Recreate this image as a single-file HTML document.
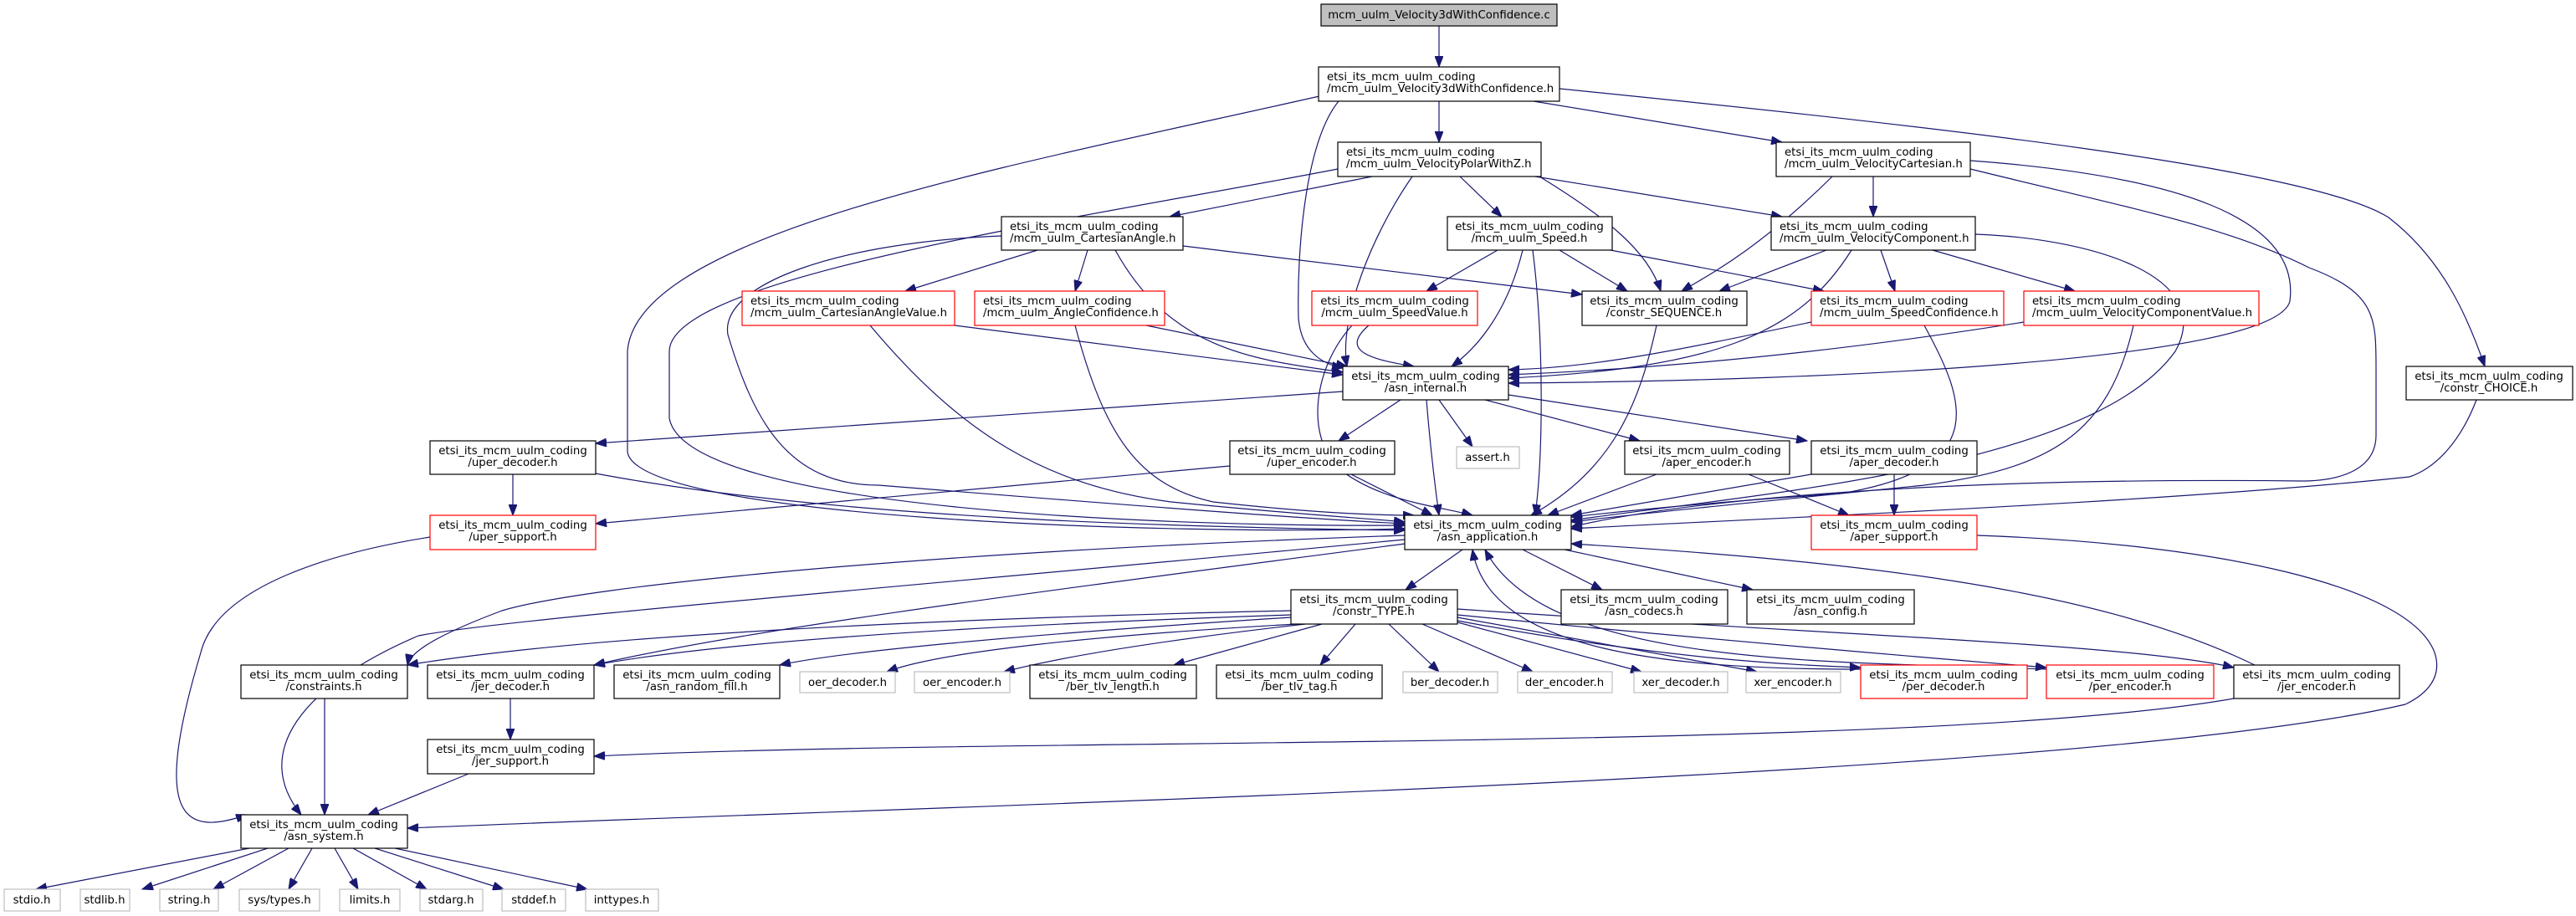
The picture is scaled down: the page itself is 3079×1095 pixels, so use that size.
<!DOCTYPE html>
<html><head><meta charset="utf-8"><style>
html,body{margin:0;padding:0;background:#fff;}
svg{display:block;}
text{font-family:"DejaVu Sans","Liberation Sans",sans-serif;font-size:13.3px;fill:#000;}
.n{fill:#fff;stroke:#000;stroke-width:1.2;}
.r{fill:#fff;stroke:#ff0000;stroke-width:1.2;}
.g{fill:#fff;stroke:#bfbfbf;stroke-width:1.2;}
.e{fill:none;stroke:#191970;stroke-width:1.2;marker-end:url(#a);}
</style></head><body>
<svg width="3079" height="1095" viewBox="0 0 3079 1095" xmlns="http://www.w3.org/2000/svg">
<defs><marker id="a" markerUnits="userSpaceOnUse" markerWidth="14" markerHeight="10" refX="13" refY="5" orient="auto"><path d="M0,0 L13,5 L0,10 z" fill="#191970" stroke="#191970"/></marker></defs>

<g>
<path class="e" d="M1720,31 L1720,80"/>
<path class="e" d="M1720,121 L1720,170"/>
<path class="e" d="M1833,121 L2130,170"/>
<path class="e" d="M1864,106 C2300,150 2760,200 2855,260 C2920,310 2950,380 2970,438"/>
<path class="e" d="M1600,121 C1560,170 1550,300 1552,380 C1555,420 1580,435 1605,440"/>
<path class="e" d="M1577,115 C1200,200 760,280 750,420 L750,540 C760,620 1400,640 1679,632"/>
<path class="e" d="M1640,211 L1398,259"/>
<path class="e" d="M1745,211 L1795,259"/>
<path class="e" d="M1835,211 L2130,259"/>
<path class="e" d="M1840,211 C1920,260 1970,300 1985,348"/>
<path class="e" d="M1688,211 C1640,280 1600,380 1610,438"/>
<path class="e" d="M1599,202 C1300,260 800,330 800,420 L800,500 C820,610 1400,630 1679,628"/>
<path class="e" d="M2239,211 L2239,259"/>
<path class="e" d="M2190,211 C2100,300 2040,330 2010,348"/>
<path class="e" d="M2355,192 C2600,210 2750,260 2737,360 C2720,430 2200,455 1803,458"/>
<path class="e" d="M2355,202 C2550,250 2660,270 2760,320 C2840,350 2840,380 2840,440 L2840,520 C2840,560 2800,575 2750,575 C2300,570 2000,600 1878,630"/>
<path class="e" d="M1240,299 L1082,348"/>
<path class="e" d="M1300,299 L1285,348"/>
<path class="e" d="M1333,299 C1400,420 1500,430 1605,445"/>
<path class="e" d="M1414,294 L1891,352"/>
<path class="e" d="M1197,282 C1000,290 860,340 870,400 C900,500 940,580 1050,580 C1300,600 1550,620 1679,626"/>
<path class="e" d="M1790,299 L1705,348"/>
<path class="e" d="M1864,299 L1945,348"/>
<path class="e" d="M1925,299 L2180,348"/>
<path class="e" d="M1820,299 C1800,380 1760,420 1735,438"/>
<path class="e" d="M1832,299 C1845,400 1845,540 1835,616"/>
<path class="e" d="M2183,299 L2055,348"/>
<path class="e" d="M2248,299 L2265,348"/>
<path class="e" d="M2310,299 L2480,348"/>
<path class="e" d="M2213,299 C2150,400 2050,440 1803,452"/>
<path class="e" d="M2361,280 C2500,285 2650,330 2600,420 C2500,560 2100,590 1878,622"/>
<path class="e" d="M1636,389 C1600,420 1640,430 1690,438"/>
<path class="e" d="M1616,389 C1570,440 1560,520 1600,560 C1650,600 1720,605 1760,616"/>
<path class="e" d="M1980,389 C1960,480 1930,560 1830,616"/>
<path class="e" d="M2165,385 C2000,420 1900,440 1803,442"/>
<path class="e" d="M2300,389 C2350,480 2380,560 2200,590 C2050,600 1950,610 1878,618"/>
<path class="e" d="M2419,385 C2200,420 2000,440 1803,448"/>
<path class="e" d="M2550,389 C2520,520 2450,560 2300,580 C2100,600 1950,615 1878,624"/>
<path class="e" d="M1141,389 L1605,448"/>
<path class="e" d="M1040,389 C1150,520 1250,580 1400,600 C1550,615 1640,620 1679,624"/>
<path class="e" d="M1370,389 L1610,438"/>
<path class="e" d="M1285,389 C1320,520 1360,580 1450,600 C1560,612 1640,616 1690,616"/>
<path class="e" d="M1605,468 L712,530"/>
<path class="e" d="M1674,478 L1600,527"/>
<path class="e" d="M1720,478 L1760,534"/>
<path class="e" d="M1775,478 L1960,527"/>
<path class="e" d="M1803,472 L2160,527"/>
<path class="e" d="M1705,478 C1710,540 1715,580 1720,616"/>
<path class="e" d="M613,567 L613,616"/>
<path class="e" d="M712,566 C1000,620 1400,630 1679,634"/>
<path class="e" d="M1470,557 L712,626"/>
<path class="e" d="M1615,567 L1712,616"/>
<path class="e" d="M2090,567 L2210,616"/>
<path class="e" d="M1980,567 L1850,616"/>
<path class="e" d="M2264,567 L2264,616"/>
<path class="e" d="M2165,567 L1878,616"/>
<path class="e" d="M2960,478 C2940,530 2910,560 2880,570 C2600,600 2100,620 1878,632"/>
<path class="e" d="M514,642 C400,660 260,700 240,780 C180,980 220,1000 295,974"/>
<path class="e" d="M2363,640 C2650,650 2880,700 2910,780 C2920,810 2900,830 2875,842 C2500,930 1200,960 487,990"/>
<path class="e" d="M1748,657 L1680,705"/>
<path class="e" d="M1820,657 L1915,705"/>
<path class="e" d="M1870,657 L2095,705"/>
<path class="e" d="M1679,645 C1100,700 600,740 500,760 C360,820 300,900 360,974"/>
<path class="e" d="M1679,640 C1100,660 700,700 600,730 C520,760 490,780 487,795"/>
<path class="e" d="M1679,650 C1300,700 900,750 710,795"/>
<path class="e" d="M1543,730 C1100,740 700,760 487,795"/>
<path class="e" d="M1543,735 C1100,750 850,770 710,795"/>
<path class="e" d="M1543,738 C1200,760 1000,780 932,795"/>
<path class="e" d="M1550,746 C1300,760 1120,780 1060,803"/>
<path class="e" d="M1560,746 C1350,770 1250,790 1200,803"/>
<path class="e" d="M1580,746 L1403,795"/>
<path class="e" d="M1620,746 L1578,795"/>
<path class="e" d="M1660,746 L1720,803"/>
<path class="e" d="M1700,746 L1832,803"/>
<path class="e" d="M1735,742 L1962,803"/>
<path class="e" d="M1742,738 L2100,803"/>
<path class="e" d="M1742,742 C2000,790 2150,795 2224,798"/>
<path class="e" d="M1742,735 C2100,770 2350,790 2446,798"/>
<path class="e" d="M1742,728 C2200,760 2550,770 2670,798"/>
<path class="e" d="M2224,800 C2000,800 1780,780 1760,657"/>
<path class="e" d="M2446,800 C2200,790 1850,800 1775,657"/>
<path class="e" d="M2695,795 C2500,700 2200,670 1878,650"/>
<path class="e" d="M2670,835 C2300,900 1200,880 710,904"/>
<path class="e" d="M610,835 L610,884"/>
<path class="e" d="M560,925 L440,974"/>
<path class="e" d="M388,835 L388,974"/>
<path class="e" d="M298,1014 L43,1063"/>
<path class="e" d="M320,1014 L170,1063"/>
<path class="e" d="M345,1014 L255,1063"/>
<path class="e" d="M373,1014 L345,1063"/>
<path class="e" d="M400,1014 L428,1063"/>
<path class="e" d="M422,1014 L510,1063"/>
<path class="e" d="M448,1014 L602,1063"/>
<path class="e" d="M472,1014 L702,1063"/>
</g>

<rect x="1579" y="5" width="282" height="26" fill="#bfbfbf" stroke="#000" stroke-width="1.2"/>
<text x="1720" y="22" text-anchor="middle">mcm_uulm_Velocity3dWithConfidence.c</text>

<rect class="n" x="1576" y="80" width="288" height="41"/>
<text x="1586" y="96">etsi_its_mcm_uulm_coding</text><text x="1586" y="110">/mcm_uulm_Velocity3dWithConfidence.h</text>

<rect class="n" x="1599" y="170" width="243" height="41"/>
<text x="1609" y="186">etsi_its_mcm_uulm_coding</text><text x="1609" y="200">/mcm_uulm_VelocityPolarWithZ.h</text>

<rect class="n" x="2123" y="170" width="232" height="41"/>
<text x="2133" y="186">etsi_its_mcm_uulm_coding</text><text x="2133" y="200">/mcm_uulm_VelocityCartesian.h</text>

<rect class="n" x="1197" y="259" width="217" height="40"/>
<text x="1207" y="275">etsi_its_mcm_uulm_coding</text><text x="1207" y="289">/mcm_uulm_CartesianAngle.h</text>

<rect class="n" x="1730" y="259" width="197" height="40"/>
<text x="1828" y="275" text-anchor="middle">etsi_its_mcm_uulm_coding</text><text x="1828" y="289" text-anchor="middle">/mcm_uulm_Speed.h</text>

<rect class="n" x="2117" y="259" width="244" height="40"/>
<text x="2127" y="275">etsi_its_mcm_uulm_coding</text><text x="2127" y="289">/mcm_uulm_VelocityComponent.h</text>

<rect class="r" x="887" y="348" width="254" height="41"/>
<text x="897" y="364">etsi_its_mcm_uulm_coding</text><text x="897" y="378">/mcm_uulm_CartesianAngleValue.h</text>

<rect class="r" x="1165" y="348" width="227" height="41"/>
<text x="1175" y="364">etsi_its_mcm_uulm_coding</text><text x="1175" y="378">/mcm_uulm_AngleConfidence.h</text>

<rect class="r" x="1568" y="348" width="198" height="41"/>
<text x="1667" y="364" text-anchor="middle">etsi_its_mcm_uulm_coding</text><text x="1667" y="378" text-anchor="middle">/mcm_uulm_SpeedValue.h</text>

<rect class="n" x="1891" y="348" width="197" height="41"/>
<text x="1989" y="364" text-anchor="middle">etsi_its_mcm_uulm_coding</text><text x="1989" y="378" text-anchor="middle">/constr_SEQUENCE.h</text>

<rect class="r" x="2165" y="348" width="230" height="41"/>
<text x="2175" y="364">etsi_its_mcm_uulm_coding</text><text x="2175" y="378">/mcm_uulm_SpeedConfidence.h</text>

<rect class="r" x="2419" y="348" width="281" height="41"/>
<text x="2429" y="364">etsi_its_mcm_uulm_coding</text><text x="2429" y="378">/mcm_uulm_VelocityComponentValue.h</text>

<rect class="n" x="1605" y="438" width="198" height="40"/>
<text x="1704" y="454" text-anchor="middle">etsi_its_mcm_uulm_coding</text><text x="1704" y="468" text-anchor="middle">/asn_internal.h</text>

<rect class="n" x="2876" y="438" width="199" height="40"/>
<text x="2975" y="454" text-anchor="middle">etsi_its_mcm_uulm_coding</text><text x="2975" y="468" text-anchor="middle">/constr_CHOICE.h</text>

<rect class="n" x="514" y="527" width="198" height="40"/>
<text x="613" y="543" text-anchor="middle">etsi_its_mcm_uulm_coding</text><text x="613" y="557" text-anchor="middle">/uper_decoder.h</text>

<rect class="n" x="1470" y="527" width="197" height="40"/>
<text x="1568" y="543" text-anchor="middle">etsi_its_mcm_uulm_coding</text><text x="1568" y="557" text-anchor="middle">/uper_encoder.h</text>

<rect class="g" x="1741" y="534" width="75" height="26"/>
<text x="1778" y="551" text-anchor="middle">assert.h</text>

<rect class="n" x="1942" y="527" width="197" height="40"/>
<text x="2040" y="543" text-anchor="middle">etsi_its_mcm_uulm_coding</text><text x="2040" y="557" text-anchor="middle">/aper_encoder.h</text>

<rect class="n" x="2165" y="527" width="198" height="40"/>
<text x="2264" y="543" text-anchor="middle">etsi_its_mcm_uulm_coding</text><text x="2264" y="557" text-anchor="middle">/aper_decoder.h</text>

<rect class="r" x="514" y="616" width="198" height="41"/>
<text x="613" y="632" text-anchor="middle">etsi_its_mcm_uulm_coding</text><text x="613" y="646" text-anchor="middle">/uper_support.h</text>

<rect class="n" x="1679" y="616" width="199" height="41"/>
<text x="1778" y="632" text-anchor="middle">etsi_its_mcm_uulm_coding</text><text x="1778" y="646" text-anchor="middle">/asn_application.h</text>

<rect class="r" x="2165" y="616" width="198" height="41"/>
<text x="2264" y="632" text-anchor="middle">etsi_its_mcm_uulm_coding</text><text x="2264" y="646" text-anchor="middle">/aper_support.h</text>

<rect class="n" x="1543" y="705" width="199" height="41"/>
<text x="1642" y="721" text-anchor="middle">etsi_its_mcm_uulm_coding</text><text x="1642" y="735" text-anchor="middle">/constr_TYPE.h</text>

<rect class="n" x="1866" y="705" width="199" height="41"/>
<text x="1965" y="721" text-anchor="middle">etsi_its_mcm_uulm_coding</text><text x="1965" y="735" text-anchor="middle">/asn_codecs.h</text>

<rect class="n" x="2088" y="705" width="200" height="41"/>
<text x="2188" y="721" text-anchor="middle">etsi_its_mcm_uulm_coding</text><text x="2188" y="735" text-anchor="middle">/asn_config.h</text>

<rect class="n" x="288" y="795" width="199" height="40"/>
<text x="387" y="811" text-anchor="middle">etsi_its_mcm_uulm_coding</text><text x="387" y="825" text-anchor="middle">/constraints.h</text>

<rect class="n" x="511" y="795" width="199" height="40"/>
<text x="610" y="811" text-anchor="middle">etsi_its_mcm_uulm_coding</text><text x="610" y="825" text-anchor="middle">/jer_decoder.h</text>

<rect class="n" x="734" y="795" width="198" height="40"/>
<text x="833" y="811" text-anchor="middle">etsi_its_mcm_uulm_coding</text><text x="833" y="825" text-anchor="middle">/asn_random_fill.h</text>

<rect class="g" x="956" y="803" width="114" height="25"/>
<text x="1013" y="820" text-anchor="middle">oer_decoder.h</text>

<rect class="g" x="1093" y="803" width="114" height="25"/>
<text x="1150" y="820" text-anchor="middle">oer_encoder.h</text>

<rect class="n" x="1231" y="795" width="199" height="40"/>
<text x="1330" y="811" text-anchor="middle">etsi_its_mcm_uulm_coding</text><text x="1330" y="825" text-anchor="middle">/ber_tlv_length.h</text>

<rect class="n" x="1454" y="795" width="198" height="40"/>
<text x="1553" y="811" text-anchor="middle">etsi_its_mcm_uulm_coding</text><text x="1553" y="825" text-anchor="middle">/ber_tlv_tag.h</text>

<rect class="g" x="1677" y="803" width="113" height="25"/>
<text x="1733" y="820" text-anchor="middle">ber_decoder.h</text>

<rect class="g" x="1814" y="803" width="113" height="25"/>
<text x="1870" y="820" text-anchor="middle">der_encoder.h</text>

<rect class="g" x="1953" y="803" width="112" height="25"/>
<text x="2009" y="820" text-anchor="middle">xer_decoder.h</text>

<rect class="g" x="2087" y="803" width="113" height="25"/>
<text x="2143" y="820" text-anchor="middle">xer_encoder.h</text>

<rect class="r" x="2224" y="795" width="199" height="40"/>
<text x="2323" y="811" text-anchor="middle">etsi_its_mcm_uulm_coding</text><text x="2323" y="825" text-anchor="middle">/per_decoder.h</text>

<rect class="r" x="2446" y="795" width="200" height="40"/>
<text x="2546" y="811" text-anchor="middle">etsi_its_mcm_uulm_coding</text><text x="2546" y="825" text-anchor="middle">/per_encoder.h</text>

<rect class="n" x="2670" y="795" width="198" height="40"/>
<text x="2769" y="811" text-anchor="middle">etsi_its_mcm_uulm_coding</text><text x="2769" y="825" text-anchor="middle">/jer_encoder.h</text>

<rect class="n" x="511" y="884" width="199" height="41"/>
<text x="610" y="900" text-anchor="middle">etsi_its_mcm_uulm_coding</text><text x="610" y="914" text-anchor="middle">/jer_support.h</text>

<rect class="n" x="288" y="974" width="199" height="40"/>
<text x="387" y="990" text-anchor="middle">etsi_its_mcm_uulm_coding</text><text x="387" y="1004" text-anchor="middle">/asn_system.h</text>

<rect class="g" x="5" y="1063" width="67" height="26"/><text x="38" y="1080" text-anchor="middle">stdio.h</text>
<rect class="g" x="96" y="1063" width="59" height="26"/><text x="125" y="1080" text-anchor="middle">stdlib.h</text>
<rect class="g" x="191" y="1063" width="70" height="26"/><text x="226" y="1080" text-anchor="middle">string.h</text>
<rect class="g" x="286" y="1063" width="96" height="26"/><text x="334" y="1080" text-anchor="middle">sys/types.h</text>
<rect class="g" x="406" y="1063" width="72" height="26"/><text x="442" y="1080" text-anchor="middle">limits.h</text>
<rect class="g" x="502" y="1063" width="75" height="26"/><text x="539" y="1080" text-anchor="middle">stdarg.h</text>
<rect class="g" x="600" y="1063" width="76" height="26"/><text x="638" y="1080" text-anchor="middle">stddef.h</text>
<rect class="g" x="700" y="1063" width="87" height="26"/><text x="743" y="1080" text-anchor="middle">inttypes.h</text>
</svg>
</body></html>
